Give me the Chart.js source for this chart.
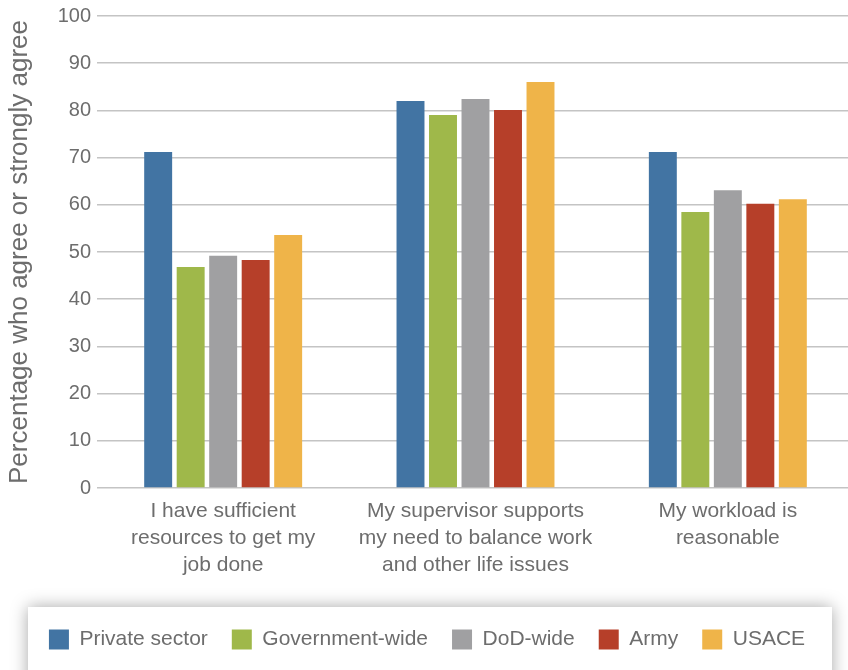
<!DOCTYPE html>
<html>
<head>
<meta charset="utf-8">
<script src="https://cdn.jsdelivr.net/npm/chart.js@4/dist/chart.umd.min.js"></script>
<style>
  html, body { margin: 0; padding: 0; background: #fff; overflow: hidden; }
  #wrap { width: 848px; height: 670px; overflow: hidden; position: relative; }
</style>
</head>
<body>
<div id="wrap"><canvas id="chart" width="860" height="670"></canvas></div>
<script>
// Survey statements (x axis), one line per array entry
const categories = [
  ['I have sufficient', 'resources to get my', 'job done'],
  ['My supervisor supports', 'my need to balance work', 'and other life issues'],
  ['My workload is', 'reasonable']
];

const seriesNames = ['Private sector', 'Government-wide', 'DoD-wide', 'Army', 'USACE'];
const seriesColors = ['#4274a3', '#9fb84a', '#a0a0a2', '#b63f29', '#efb449'];

// Percentage who agree or strongly agree
const privateSector = [71.2, 82.0, 71.2];
const governmentWide = [46.8, 79.0, 58.5];
const dodWide = [49.2, 82.4, 63.1];
const army = [48.3, 80.1, 60.2];
const usace = [53.6, 86.0, 61.2];

const yTicks = [0, 10, 20, 30, 40, 50, 60, 70, 80, 90, 100];

const seriesValues = [privateSector, governmentWide, dodWide, army, usace];
const textColor = '#6d6d6d';
const fontFamily = "'Liberation Sans', Arial, sans-serif";

// white panel with a soft shadow behind the legend
const legendPanel = {
  id: 'legendPanel',
  beforeDraw(chart) {
    const ctx = chart.ctx;
    ctx.save();
    ctx.shadowColor = 'rgba(0, 0, 0, 0.35)';
    ctx.shadowBlur = 16;
    ctx.fillStyle = '#ffffff';
    ctx.fillRect(28, 607, 804, 90);
    ctx.restore();
  }
};

new Chart(document.getElementById('chart'), {
  type: 'bar',
  data: {
    labels: categories,
    datasets: seriesNames.map((name, i) => ({
      label: name,
      data: seriesValues[i],
      backgroundColor: seriesColors[i],
      borderWidth: 0,
      categoryPercentage: 0.644,
      barPercentage: 0.86
    }))
  },
  options: {
    responsive: false,
    animation: false,
    layout: { padding: { top: 15, right: 6, bottom: 10, left: 0 } },
    plugins: {
      tooltip: { enabled: false },
      legend: {
        position: 'bottom',
        labels: {
          boxWidth: 20,
          boxHeight: 20,
          padding: 24,
          color: textColor,
          font: { family: fontFamily, size: 21 }
        }
      }
    },
    scales: {
      x: {
        grid: { display: false },
        border: { display: false },
        ticks: {
          color: textColor,
          padding: 2,
          maxRotation: 0,
          font: { family: fontFamily, size: 21, lineHeight: '27px' }
        },
        afterFit(scale) { scale.height = 117; }
      },
      y: {
        min: 0,
        max: 100,
        afterBuildTicks(scale) { scale.ticks = yTicks.map(v => ({ value: v })); },
        grid: { color: '#c4c4c4', lineWidth: 1.5, drawTicks: false },
        border: { display: false },
        ticks: {
          color: textColor,
          padding: 6,
          font: { family: fontFamily, size: 20, lineHeight: 1 }
        },
        title: {
          display: true,
          text: 'Percentage who agree or strongly agree',
          color: textColor,
          padding: { top: 4, bottom: 0 },
          font: { family: fontFamily, size: 26 }
        },
        afterFit(scale) { scale.width = 97; }
      }
    }
  },
  plugins: [legendPanel]
});
</script>
</body>
</html>
